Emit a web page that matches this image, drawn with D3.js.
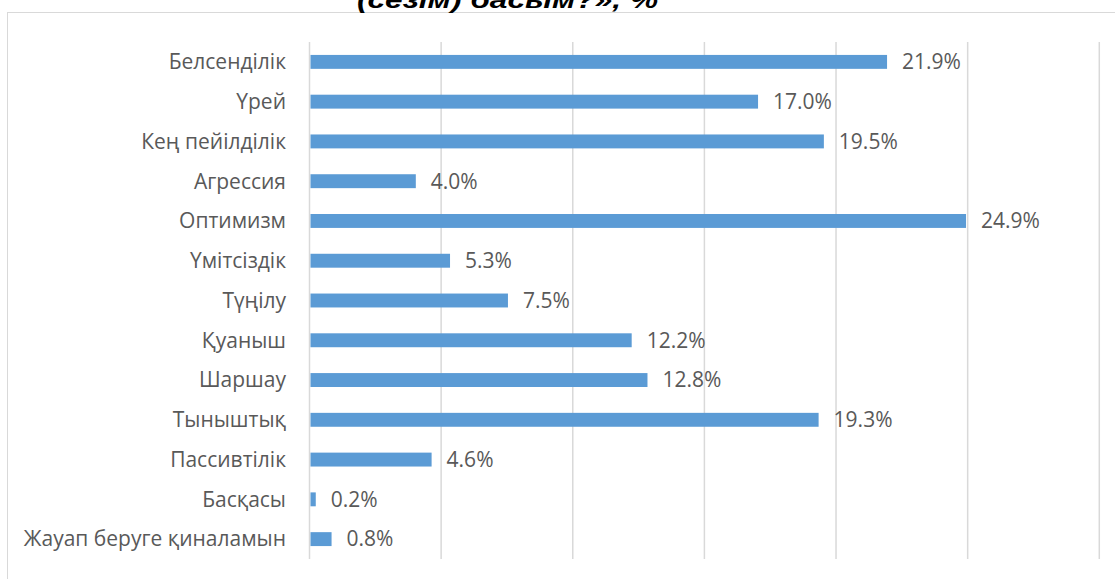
<!DOCTYPE html>
<html>
<head>
<meta charset="utf-8">
<script src="https://cdn.jsdelivr.net/npm/d3@7"></script>
<style>
  html, body { margin: 0; padding: 0; background: #fff; overflow: hidden; }
</style>
</head>
<body>
<script>
// data
const categories = ["Белсенділік", "Үрей", "Кең пейілділік", "Агрессия", "Оптимизм", "Үмітсіздік",
  "Түңілу", "Қуаныш", "Шаршау", "Тыныштық", "Пассивтілік", "Басқасы", "Жауап беруге қиналамын"]
const values = [21.9, 17.0, 19.5, 4.0, 24.9, 5.3, 7.5, 12.2, 12.8, 19.3, 4.6, 0.2, 0.8]
const gridTicks = [0, 5, 10, 15, 20, 25, 30]
const titleTail = "(сезім) басым?», %"

const width = 1115
const height = 579
const barColor = "#5B9BD5"
const textColor = "#595959"
const gridColor = "#d9d9d9"
const font = "'Open Sans', 'Noto Sans', sans-serif"

const svg = d3.select("body").append("svg")
  .attr("width", width)
  .attr("height", height)

// outer frame, clipped at right and bottom like the screenshot
svg.append("rect")
  .attr("x", 7.5).attr("y", 12.5)
  .attr("width", 1130).attr("height", 600)
  .attr("fill", "none")
  .attr("stroke", gridColor)

// tail end of the title, mostly cut off at the top
svg.append("text")
  .attr("x", 357).attr("y", 7.5)
  .attr("font-family", "'Liberation Sans', Arial, sans-serif")
  .attr("font-weight", "bold")
  .attr("font-style", "italic")
  .attr("font-size", 24)
  .attr("textLength", 301)
  .attr("lengthAdjust", "spacingAndGlyphs")
  .attr("fill", "#000")
  .text(titleTail)

const x = d3.scaleLinear().domain([0, 30]).range([309.5, 1099.3])
const y = d3.scaleBand().domain(categories).range([42, 559]).paddingInner(0.65).paddingOuter(0.325)

// vertical gridlines
svg.append("g").selectAll("line")
  .data(gridTicks)
  .join("line")
  .attr("x1", d => x(d)).attr("x2", d => x(d))
  .attr("y1", 42).attr("y2", 559)
  .attr("stroke", gridColor)
  .attr("stroke-width", 1.5)

// bars
svg.append("g").selectAll("rect")
  .data(values)
  .join("rect")
  .attr("x", x(0) + 1)
  .attr("y", (d, i) => y(categories[i]))
  .attr("width", d => x(d) - x(0))
  .attr("height", y.bandwidth())
  .attr("fill", barColor)

// category labels
svg.append("g").selectAll("text")
  .data(categories)
  .join("text")
  .attr("x", 286)
  .attr("y", d => y(d) + y.bandwidth() / 2)
  .attr("dy", "0.35em")
  .attr("text-anchor", "end")
  .attr("font-family", font)
  .attr("font-size", 21)
  .attr("fill", textColor)
  .text(d => d)

// value labels
svg.append("g").selectAll("text")
  .data(values)
  .join("text")
  .attr("x", d => x(d) + 16)
  .attr("y", (d, i) => y(categories[i]) + y.bandwidth() / 2)
  .attr("dy", "0.35em")
  .attr("font-family", font)
  .attr("font-size", 21)
  .attr("fill", textColor)
  .text(d => d.toFixed(1) + "%")
</script>
</body>
</html>
